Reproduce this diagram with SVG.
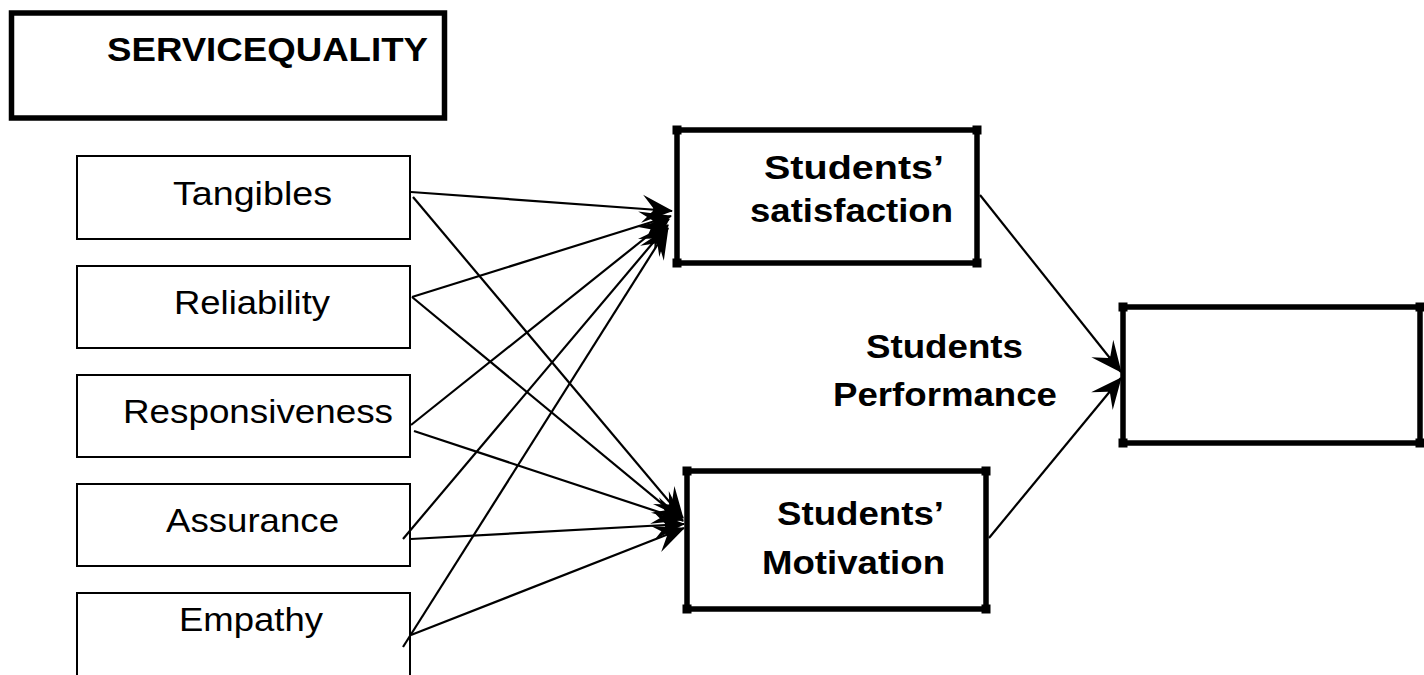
<svg xmlns="http://www.w3.org/2000/svg" width="1424" height="675" viewBox="0 0 1424 675">
<defs>
<style>
.thin{fill:#fff;stroke:#000;stroke-width:2}
.thick{fill:#fff;stroke:#000;stroke-width:5.5}
.nub{fill:#000}
.t{font-family:"Liberation Sans",Arial,sans-serif;font-size:33px;fill:#000}
.b{font-family:"Liberation Sans",Arial,sans-serif;font-size:33px;font-weight:bold;fill:#000}
.c{stroke:#000;stroke-width:2.2;fill:none;marker-end:url(#ah)}
</style>
<marker id="ah" viewBox="-34 -17 36 34" refX="0" refY="0" markerWidth="36" markerHeight="34" markerUnits="userSpaceOnUse" orient="auto">
<path d="M1,0 L-30,-14 L-19,-1.5 L-19,1.5 L-30,14 Z" fill="#000" stroke="none"/>
</marker>
</defs>
<rect width="1424" height="675" fill="#fff"/>

<g id="servicequality">
<rect class="thick" x="11.5" y="13" width="433" height="105"/>
<text class="b" x="107" y="61" textLength="321" lengthAdjust="spacingAndGlyphs">SERVICEQUALITY</text>
</g>

<g id="tangibles">
<rect class="thin" x="77" y="156" width="333" height="83"/>
<text class="t" x="173" y="205" textLength="159" lengthAdjust="spacingAndGlyphs">Tangibles</text>
</g>
<g id="reliability">
<rect class="thin" x="77" y="266" width="333" height="82"/>
<text class="t" x="174" y="314" textLength="156" lengthAdjust="spacingAndGlyphs">Reliability</text>
</g>
<g id="responsiveness">
<rect class="thin" x="77" y="375" width="333" height="82"/>
<text class="t" x="123" y="423" textLength="270" lengthAdjust="spacingAndGlyphs">Responsiveness</text>
</g>
<g id="assurance">
<rect class="thin" x="77" y="484" width="333" height="82"/>
<text class="t" x="166" y="532" textLength="173" lengthAdjust="spacingAndGlyphs">Assurance</text>
</g>
<g id="empathy">
<rect class="thin" x="77" y="593" width="333" height="110"/>
<text class="t" x="179" y="631" textLength="144" lengthAdjust="spacingAndGlyphs">Empathy</text>
</g>

<g id="satisfaction">
<rect class="thick" x="677" y="130" width="300" height="133"/>
<rect class="nub" x="672.5" y="125.5" width="9" height="9"/>
<rect class="nub" x="972.5" y="125.5" width="9" height="9"/>
<rect class="nub" x="672.5" y="258.5" width="9" height="9"/>
<rect class="nub" x="972.5" y="258.5" width="9" height="9"/>
<text class="b" x="764" y="179" textLength="180" lengthAdjust="spacingAndGlyphs">Students’</text>
<text class="b" x="750" y="222" textLength="203" lengthAdjust="spacingAndGlyphs">satisfaction</text>
</g>

<g id="motivation">
<rect class="thick" x="687" y="471" width="299" height="138"/>
<rect class="nub" x="682.5" y="466.5" width="9" height="9"/>
<rect class="nub" x="981.5" y="466.5" width="9" height="9"/>
<rect class="nub" x="682.5" y="604.5" width="9" height="9"/>
<rect class="nub" x="981.5" y="604.5" width="9" height="9"/>
<text class="b" x="777" y="525" textLength="167" lengthAdjust="spacingAndGlyphs">Students’</text>
<text class="b" x="762" y="574" textLength="183" lengthAdjust="spacingAndGlyphs">Motivation</text>
</g>

<g id="performance-label">
<text class="b" x="866" y="358" textLength="157" lengthAdjust="spacingAndGlyphs">Students</text>
<text class="b" x="833" y="406" textLength="224" lengthAdjust="spacingAndGlyphs">Performance</text>
</g>

<g id="performance">
<rect class="thick" x="1123" y="307" width="297" height="136"/>
<rect class="nub" x="1118.5" y="302.5" width="9" height="9"/>
<rect class="nub" x="1118.5" y="438.5" width="9" height="9"/>
<rect class="nub" x="1415.5" y="302.5" width="9" height="9"/>
<rect class="nub" x="1415.5" y="438.5" width="9" height="9"/>
</g>

<g id="connectors">
<line class="c" x1="411" y1="192" x2="672" y2="211"/>
<line class="c" x1="412" y1="297" x2="671" y2="216"/>
<line class="c" x1="411" y1="425" x2="669" y2="219"/>
<line class="c" x1="403" y1="539" x2="668" y2="225"/>
<line class="c" x1="403" y1="647" x2="668" y2="228"/>
<line class="c" x1="413" y1="197" x2="683" y2="518"/>
<line class="c" x1="412" y1="297" x2="683" y2="521"/>
<line class="c" x1="414" y1="431" x2="683" y2="520"/>
<line class="c" x1="411" y1="539" x2="684" y2="524"/>
<line class="c" x1="411" y1="635" x2="684" y2="528"/>
<line class="c" x1="980" y1="195" x2="1121" y2="372"/>
<line class="c" x1="989" y1="538" x2="1121" y2="378"/>
</g>
</svg>
